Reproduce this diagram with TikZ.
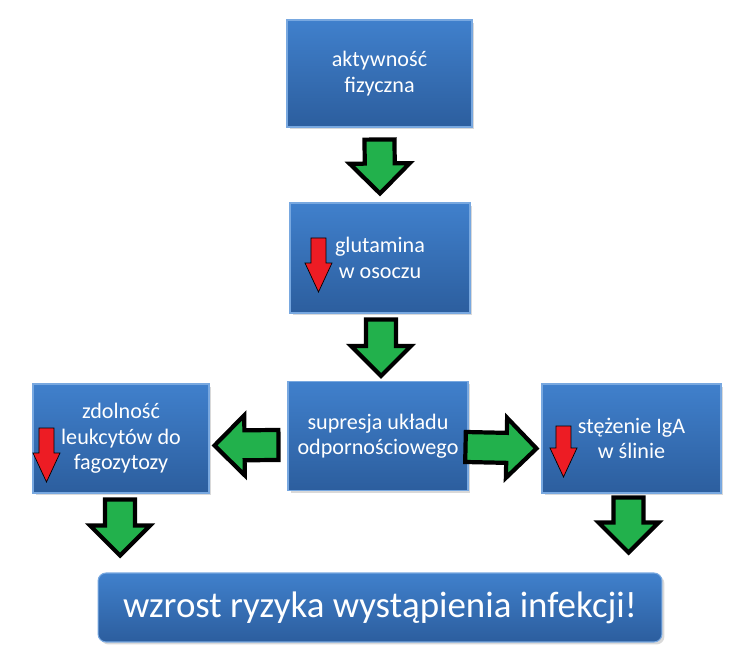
\documentclass[tikz,border=0pt]{standalone}
\usepackage{fontspec}
\setmainfont{Carlito}
\usetikzlibrary{calc,positioning,shadows}
\definecolor{boxtop}{RGB}{64,128,204}
\definecolor{boxbot}{RGB}{44,94,158}
\definecolor{boxedge}{RGB}{120,168,224}
\definecolor{arrgreen}{RGB}{34,177,76}
\definecolor{arrred}{RGB}{237,28,36}
\tikzset{blockarrow/.style n args={3}{to path={($(\tikztotarget)!#3!(\tikztostart)$) coordinate (m)
  ($(\tikztostart)!#1!90:(\tikztotarget)$) -- ($(m)!#1!90:(\tikztotarget)$) -- ($(m)!#2!90:(\tikztotarget)$)
  -- (\tikztotarget) -- ($(m)!#2!-90:(\tikztotarget)$) -- ($(m)!#1!-90:(\tikztotarget)$)
  -- ($(\tikztostart)!#1!-90:(\tikztotarget)$) -- cycle}}}
\begin{document}
\begin{tikzpicture}[x=0.02cm,y=-0.02cm]
\tikzstyle{box}=[draw=boxedge,line width=0.6pt,top color=boxtop,bottom color=boxbot,text=white,align=center,minimum width=3.6cm,minimum height=2.18cm,font=\fontsize{12.6}{14.4}\selectfont,drop shadow={shadow xshift=0.05cm,shadow yshift=-0.05cm,opacity=0.3}]
\tikzstyle{garrow}=[fill=arrgreen,draw=black,line width=2.4pt,miter limit=4,blockarrow={0.3cm}{0.6cm}{0.6cm}]
\tikzstyle{rarrow}=[fill=arrred,blockarrow={0.15cm}{0.27cm}{0.58cm}]
\useasboundingbox (0,0) rectangle (747,665);
\node[box,minimum width=3.7cm,minimum height=2.14cm] (akt) at (379.5,73.5) {aktywność\\fizyczna};
\node[box,minimum height=2.2cm] (glu) at (380,258) {glutamina\\w osoczu};
\node[box] (sup) at (378,436) {supresja układu\\odpornościowego};
\node[box,minimum width=3.52cm] (zdol) at (121,438.5) {zdolność\\leukcytów do\\fagozytozy};
\node[box,minimum width=3.58cm] (stez) at (631.5,438.5) {stężenie IgA\\w ślinie};
\node[box,rounded corners=0.16cm,minimum width=11.28cm,minimum height=1.38cm,font=\fontsize{21}{24}\selectfont] (wzr) at (380,607.5) {wzrost ryzyka wystąpienia infekcji!};
\draw[garrow] ($(akt.south)+(0,12)$) to ($(glu.north)+(0,-9)$);
\draw[garrow] ($(glu.south)+(1,6)$) to ($(sup.north)+(3,-5)$);
\draw[garrow] ($(sup.west)+(-9,9)$) to ($(zdol.east)+(5,7)$);
\draw[garrow] ($(sup.east)+(-3,11)$) to ($(stez.west)+(-5,10)$);
\draw[garrow] ($(zdol.south)+(-1,6)$) to ($(zdol.south)+(-1,62)$);
\draw[garrow] ($(stez.south)+(-3,4)$) to ($(stez.south)+(-3,59)$);
\draw[rarrow] ($(glu.west)+(29,-20)$) to ($(glu.west)+(29,34)$);
\draw[rarrow] ($(zdol.west)+(14,-10.5)$) to ($(zdol.west)+(14,43.5)$);
\draw[rarrow] ($(stez.west)+(22,-12.5)$) to ($(stez.west)+(22,38.5)$);
\end{tikzpicture}
\end{document}
